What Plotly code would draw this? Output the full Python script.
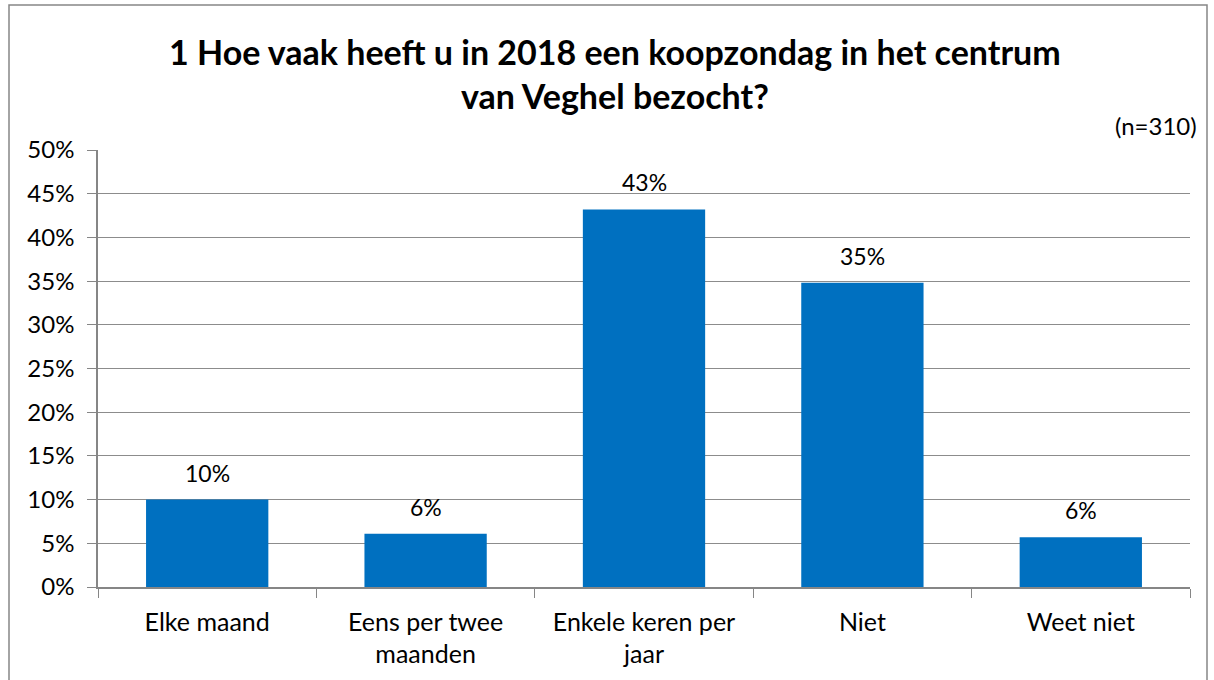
import plotly.graph_objects as go

categories = ["Elke maand", "Eens per twee<br>maanden", "Enkele keren per<br>jaar", "Niet", "Weet niet"]
values = [10.0, 6.1, 43.2, 34.8, 5.7]
labels = ["10%", "6%", "43%", "35%", "6%"]
tick_vals = [0, 5, 10, 15, 20, 25, 30, 35, 40, 45, 50]
tick_text = ["0%", "5%", "10%", "15%", "20%", "25%", "30%", "35%", "40%", "45%", "50%"]

W, H = 1214, 680
L, R, T, B = 98, 24, 150, 93
pw, ph = W - L - R, H - T - B

def px(x):
    return (x - L) / pw

def py(y):
    return (H - B - y) / ph

font = "Lato"
fig = go.Figure(go.Bar(
    x=categories, y=values,
    marker=dict(color="#0070C0", line=dict(width=0)),
    width=0.56, hoverinfo="skip",
))

annotations = [
    dict(x=c, y=v, text=t, xref="x", yref="y", showarrow=False,
         xanchor="center", yanchor="bottom", yshift=11,
         font=dict(size=23, family=font, color="#000000"))
    for c, v, t in zip(categories, values, labels)
]
annotations += [
    dict(text="<b>1 Hoe vaak heeft u in 2018 een koopzondag in het centrum<br>van Veghel bezocht?</b>",
         xref="paper", yref="paper", x=px(615), y=py(74), xanchor="center", yanchor="middle",
         showarrow=False, font=dict(size=34, family=font, color="#000000")),
    dict(text="(n=310)", xref="paper", yref="paper", x=px(1199), y=py(125),
         xanchor="right", yanchor="middle", showarrow=False,
         font=dict(size=24, family=font, color="#000000")),
]

fig.update_layout(
    width=W, height=H,
    margin=dict(l=L, r=R, t=T, b=B),
    paper_bgcolor="white", plot_bgcolor="white",
    showlegend=False,
    font=dict(family=font, color="#000000"),
    xaxis=dict(
        showgrid=False, showline=True, linecolor="#868686", linewidth=1.5,
        ticks="outside", tickson="boundaries", ticklen=9, tickcolor="#868686",
        tickfont=dict(size=25, family=font), ticklabelstandoff=12, fixedrange=True,
    ),
    yaxis=dict(
        range=[0, 50], tickvals=tick_vals, ticktext=tick_text,
        showgrid=True, gridcolor="#8c8c8c", gridwidth=1.3,
        showline=True, linecolor="#868686", linewidth=1.5,
        ticks="outside", ticklen=9, tickcolor="#868686",
        tickfont=dict(size=24, family=font), ticklabelstandoff=8,
        zeroline=False, fixedrange=True,
    ),
    annotations=annotations,
    shapes=[
        dict(type="rect", xref="paper", yref="paper",
             x0=px(9), x1=px(1207), y0=py(700), y1=py(5),
             line=dict(color="#868686", width=1.5), fillcolor="rgba(0,0,0,0)", layer="below"),
    ],
)

fig.write_html("out.html", config={"displayModeBar": False},
               post_script="document.body.style.margin='0';document.body.style.overflow='hidden';")
